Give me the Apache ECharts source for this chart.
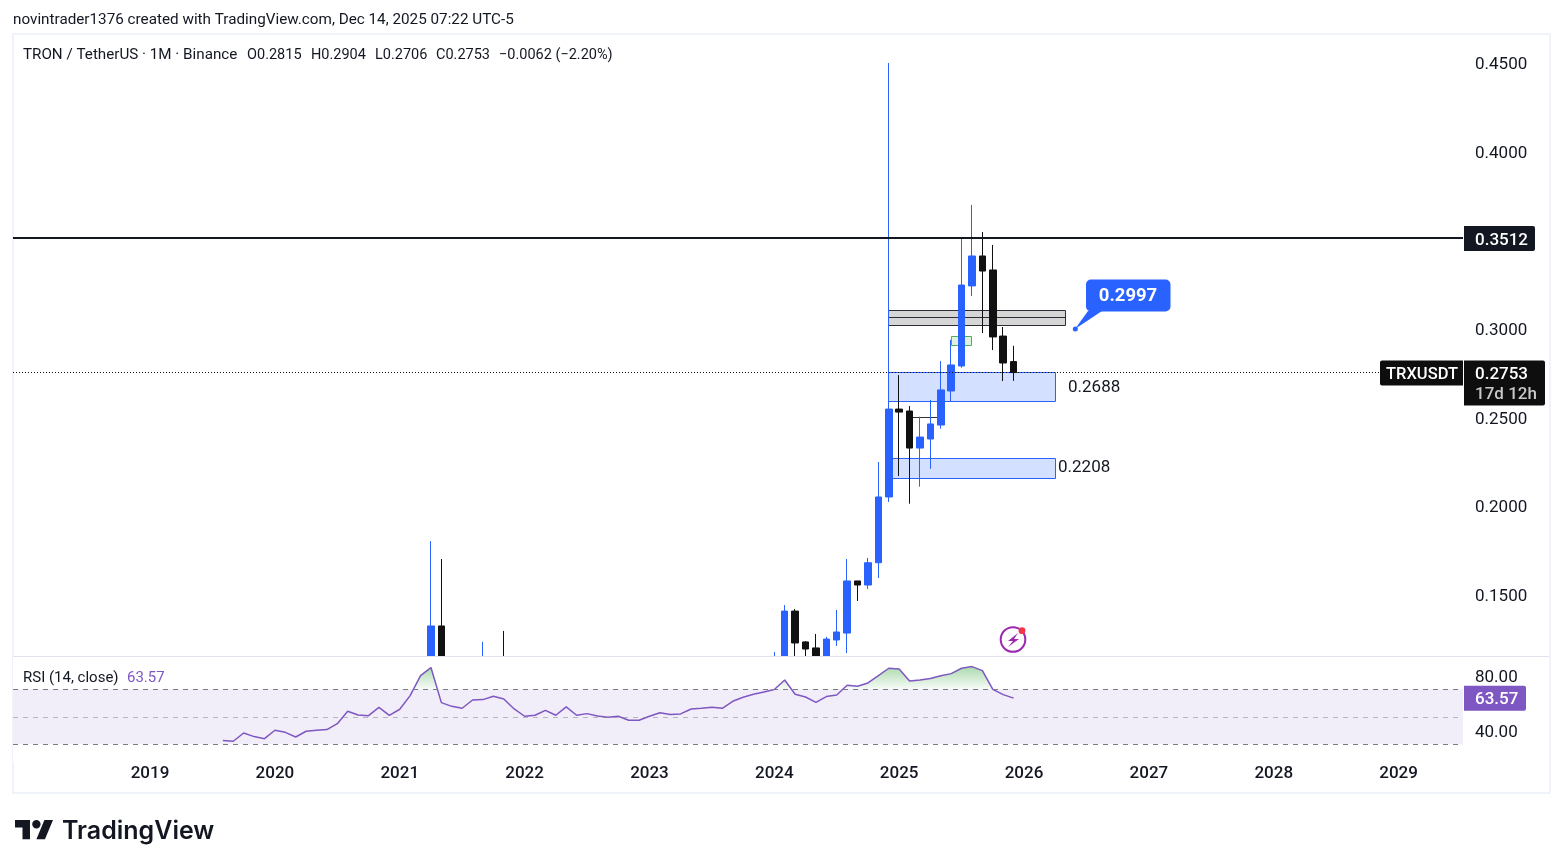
<!DOCTYPE html>
<html>
<head>
<meta charset="utf-8">
<title>TRXUSDT</title>
<style>
html,body{margin:0;padding:0;background:#fff;}
#chart{width:1563px;height:868px;}
</style>
<script src="https://cdn.jsdelivr.net/npm/echarts@6/dist/echarts.min.js"></script>
</head>
<body>
<div id="chart"></div>
<script>
// month index: 0 = Jan 2019
var yearTicks = [0, 12, 24, 36, 48, 60, 72, 84, 96, 108, 120];
var yearLabels = ['2019','2020','2021','2022','2023','2024','2025','2026','2027','2028','2029'];
var priceTicks = [0.15, 0.20, 0.25, 0.30, 0.40, 0.45];
var rsiTicks = [40, 80];

// candles (the parts under 0.115 are cut off in the picture, those are estimates)
var candleMonth = [27, 28, 32, 34, 60, 61, 62, 63, 64, 65, 66, 67, 68, 69, 70, 71, 72, 73, 74, 75, 76, 77, 78, 79, 80, 81, 82, 83];
var candleOpen  = [.0700, .1323, .0900, .1050, .1000, .1100, .1407, .1233, .1199, .1130, .1244, .1283, .1577, .1554, .1680, .2051, .2547, .2536, .2327, .2378, .2457, .2649, .2790, .3242, .3411, .3332, .2959, .2815];
var candleClose = [.1323, .0800, .1000, .0900, .1080, .1407, .1227, .1193, .1100, .1249, .1289, .1577, .1554, .1680, .2051, .2547, .2530, .2327, .2389, .2463, .2655, .2796, .3247, .3411, .3326, .2954, .2807, .2753];
var candleLow   = [.0600, .0700, .0800, .0800, .1000, .1050, .1080, .1050, .1050, .1100, .1210, .1170, .1464, .1532, .1594, .2023, .2169, .2013, .2109, .2210, .2436, .2589, .2780, .3185, .2976, .2880, .2705, .2706];
var candleHigh  = [.1802, .1701, .1233, .1295, .1176, .1441, .1419, .1238, .1278, .1261, .1413, .1701, .1577, .1707, .2248, .4500, .2739, .2564, .2504, .2598, .2818, .2937, .3512, .3699, .3546, .3473, .3010, .2904];

// RSI starts at month 7
var rsiFirstMonth = 7;
var rsiValues = [32.7, 32.2, 38.2, 35.6, 34.1, 40.2, 38.7, 35.3, 39.5, 40.2, 40.7, 45.0, 54.0, 51.3, 50.8, 56.9, 51.1, 55.5, 65.4, 79.9, 85.8, 60.3, 57.6, 56.2, 62.2, 62.5, 64.9, 63.0, 55.7, 50.4, 51.1, 54.7, 51.1, 57.2, 51.1, 52.3, 50.6, 49.6, 50.4,
    47.5, 47.5, 50.4, 53.0, 51.6, 52.1, 55.7, 56.2, 56.9, 56.2, 61.3, 64.2, 66.4, 68.1, 69.8, 76.8, 66.4, 64.4, 60.5, 64.7, 65.9, 72.9, 72.2, 74.6, 79.9, 85.3, 84.8, 76.1, 76.8, 77.8, 79.9, 81.4, 85.3, 86.5, 83.6, 70.0, 66.1, 63.57];
var rsiBands = [70, 50, 30];

// drawn levels
var resistanceLevel = 0.3512;
var lastClose = 0.2753;
// zones: [from month, to month, top price, bottom price]
var grayZone  = [70.93, 87.94, 0.3106, 0.3021];
var grayMid   = 0.3066;
var greenZone = [77.0, 78.97, 0.2959, 0.2905];
var blueZoneA = [70.93, 87.03, 0.2753, 0.2591];
var blueZoneB = [70.93, 87.03, 0.2269, 0.2157];
var shortLine = [73.1, 75.7, 0.2502];

var FONT = 'Roboto';
var INK = '#131722';
var UP = '#2962FF';
var DOWN = '#111111';
var RSI = '#7E57C2';

var candleData = candleMonth.map(function(m, i){
    return [m, candleOpen[i], candleClose[i], candleLow[i], candleHigh[i]];
});
var rsiData = rsiValues.map(function(v, i){
    return [rsiFirstMonth + i, v];
});

var myChart = echarts.init(document.getElementById('chart'));

// 这里画方框，全部走坐标轴换算
function zoneItem(api, zone, fill, stroke){
    var a = api.coord([zone[0], zone[2]]);
    var b = api.coord([zone[1], zone[3]]);
    var x1 = Math.floor(a[0]) + .5, y1 = Math.floor(a[1]) + .5;
    var x2 = Math.floor(b[0]) + .5, y2 = Math.floor(b[1]) + .5;
    return {type:'rect', shape:{x:x1, y:y1, width:x2-x1, height:y2-y1}, style:{fill:fill, stroke:stroke, lineWidth:1}};
}
function hLine(api, from, to, price, color){
    var p1 = api.coord([from, price]);
    var p2 = api.coord([to, price]);
    var y = Math.floor(p1[1]) + .5;
    return {type:'line', shape:{x1:p1[0], y1:y, x2:p2[0], y2:y}, style:{stroke:color, lineWidth:1}};
}

function renderZones(params, api){
    return {type:'group', children:[
        zoneItem(api, grayZone, '#d6d6d6', '#2a2e39'),
        hLine(api, grayZone[0], grayZone[1], grayMid, '#2a2e39'),
        zoneItem(api, greenZone, 'rgba(76,175,80,0.18)', '#4CAF50'),
        zoneItem(api, blueZoneA, 'rgba(41,98,255,0.2)', UP),
        zoneItem(api, blueZoneB, 'rgba(41,98,255,0.2)', UP),
        hLine(api, shortLine[0], shortLine[1], shortLine[2], '#333')
    ]};
}

function renderLevels(params, api){
    var box = params.coordSys;
    var yRes = api.coord([0, resistanceLevel])[1];
    var yLast = Math.floor(api.coord([0, lastClose])[1]) + .5;
    return {type:'group', children:[
        {type:'line', shape:{x1:box.x, y1:yRes, x2:box.x+box.width, y2:yRes}, style:{stroke:INK, lineWidth:2}},
        {type:'line', shape:{x1:box.x, y1:yLast, x2:box.x+box.width, y2:yLast}, style:{stroke:'#111', lineWidth:1, lineDash:[1,2]}}
    ]};
}

// y轴文字往下挪一点，padding只有放在rich里才生效
var axisRich = {n:{color:INK, fontSize:17, fontFamily:FONT, padding:[4,0,0,0]}};

var option = {
    animation:false,
    backgroundColor:'#fff',
    textStyle:{fontFamily:FONT},
    grid:[
        {left:13, top:35, width:1450, height:621},
        {left:13, top:657, width:1450, height:100}
    ],
    xAxis:[
        {type:'value', gridIndex:0, min:-13.17, max:126.19, show:false},
        {type:'value', gridIndex:1, min:-13.17, max:126.19,
            axisLine:{show:false}, axisTick:{show:false}, splitLine:{show:false},
            axisLabel:{customValues:yearTicks, color:INK, fontSize:17, fontWeight:500, margin:8, fontFamily:FONT,
                formatter:function(v){ return yearLabels[yearTicks.indexOf(v)]; }}}
    ],
    yAxis:[
        {type:'value', gridIndex:0, position:'right', min:0.11535, max:0.4658,
            axisLine:{show:false}, axisTick:{show:false}, splitLine:{show:false},
            axisLabel:{customValues:priceTicks, margin:12, rich:axisRich,
                formatter:function(v){ return '{n|' + v.toFixed(4) + '}'; }}},
        {type:'value', gridIndex:1, position:'right', min:20.76, max:93.49,
            axisLine:{show:false}, axisTick:{show:false}, splitLine:{show:false},
            axisLabel:{customValues:rsiTicks, margin:12, rich:axisRich,
                formatter:function(v){ return '{n|' + v.toFixed(2) + '}'; }}}
    ],
    series:[
        {type:'custom', xAxisIndex:0, yAxisIndex:0, z:0.1, silent:true, renderItem:renderZones, data:[[0]]},
        {type:'candlestick', xAxisIndex:0, yAxisIndex:0, z:0.2, barWidth:7, data:candleData,
            itemStyle:{color:UP, color0:DOWN, borderColor:UP, borderColor0:DOWN, borderWidth:1}},
        {type:'custom', xAxisIndex:0, yAxisIndex:0, z:0.25, silent:true, renderItem:renderLevels, data:[[0]]},
        {type:'line', xAxisIndex:1, yAxisIndex:1, z:3, data:rsiData, showSymbol:false, silent:true,
            lineStyle:{color:RSI, width:1.5},
            areaStyle:{origin:70, opacity:1, color:{type:'linear', global:true, x:0, y:665, x2:0, y2:690,
                colorStops:[{offset:0, color:'rgba(76,175,80,0.5)'},{offset:0.99, color:'rgba(76,175,80,0.03)'},{offset:1, color:'rgba(76,175,80,0)'}]}},
            markArea:{silent:true, itemStyle:{color:'rgba(126,87,194,0.1)'},
                data:[[{yAxis:rsiBands[0]},{yAxis:rsiBands[2]}]]},
            markLine:{silent:true, symbol:'none', animation:false, label:{show:false},
                data:[
                    {yAxis:rsiBands[0], lineStyle:{color:'#787B86', width:1, type:[5,5]}},
                    {yAxis:rsiBands[1], lineStyle:{color:'rgba(120,123,134,0.5)', width:1, type:[5,5]}},
                    {yAxis:rsiBands[2], lineStyle:{color:'#787B86', width:1, type:[5,5]}}
                ]}}
    ]
};
myChart.setOption(option);

// 右边的价格标签，用坐标轴算出y
function tagEls(x, y, w, h, fill, text){
    return [
        {type:'rect', z:100, shape:{x:x, y:y, width:w, height:h, r:[0,2,2,0]}, style:{fill:fill}},
        {type:'text', z:101, style:{x:x+11, y:y+h/2+2, text:text, fill:'#fff', font:'500 17px '+FONT, textVerticalAlign:'middle'}}
    ];
}
function label(x, y, text, font, color, align){
    return {type:'text', z:101, style:{x:x, y:y, text:text, fill:color || INK, font:font, textAlign:align || 'left', textVerticalAlign:'middle'}};
}

var yRes = myChart.convertToPixel({yAxisIndex:0}, resistanceLevel);
var yLast = myChart.convertToPixel({yAxisIndex:0}, lastClose);
var yRsi = myChart.convertToPixel({yAxisIndex:1}, rsiValues[rsiValues.length-1]);

var els = [];
// frame and pane separator
els.push({type:'rect', z:-1, silent:true, shape:{x:13, y:34, width:1537, height:759}, style:{fill:'none', stroke:'#f0f3fa', lineWidth:2}});
// 蒙住掉到RSI区域里的蜡烛
els.push({type:'rect', z:0.3, silent:true, shape:{x:13, y:657, width:1450, height:105}, style:{fill:'#fff'}});
els.push({type:'line', z:5, shape:{x1:13, y1:656.5, x2:1549, y2:656.5}, style:{stroke:'#e0e3eb', lineWidth:1}});

els.push(label(13, 20.5, 'novintrader1376 created with TradingView.com, Dec 14, 2025 07:22 UTC-5', '15.25px '+FONT));
els.push(label(23, 55, 'TRON / TetherUS · 1M · Binance', '15.2px '+FONT));
els.push(label(247, 55, 'O0.2815', '14.5px '+FONT));
els.push(label(311, 55, 'H0.2904', '14.5px '+FONT));
els.push(label(375, 55, 'L0.2706', '14.5px '+FONT));
els.push(label(436, 55, 'C0.2753', '14.5px '+FONT));
els.push(label(499, 55, '−0.0062 (−2.20%)', '14.5px '+FONT));
els.push(label(23, 678, 'RSI (14, close)', '15px '+FONT));
els.push(label(127, 678, '63.57', '15px '+FONT, RSI));

els = els.concat(tagEls(1464, yRes-12, 71, 25, '#131722', '0.3512'));
els = els.concat(tagEls(1464, yLast-12, 81, 25, '#0e0e0e', '0.2753'));
els.push({type:'rect', z:100, shape:{x:1464, y:yLast+11, width:81, height:22, r:[0,0,2,0]}, style:{fill:'#0e0e0e'}});
els.push(label(1475, yLast+22, '17d 12h', '500 17px '+FONT, '#c8c8c8'));
els.push({type:'rect', z:100, shape:{x:1380, y:yLast-12, width:83, height:25, r:[2,0,0,2]}, style:{fill:'#0e0e0e'}});
els.push(label(1386, yLast+2.5, 'TRXUSDT', '500 16.5px '+FONT, '#fff'));
els = els.concat(tagEls(1464, yRsi-12.5, 62, 25, RSI, '63.57'));

// 0.2997 callout
els.push({type:'polygon', z:100, shape:{points:[[1075,329],[1088,311],[1102,311]]}, style:{fill:UP}});
els.push({type:'circle', z:100, shape:{cx:1075.3, cy:329, r:2.5}, style:{fill:UP}});
els.push({type:'rect', z:100, shape:{x:1086, y:279.5, width:84.5, height:32, r:5}, style:{fill:UP}});
els.push(label(1128, 296.5, '0.2997', '700 18.5px '+FONT, '#fff', 'center'));

// zone labels
els.push(label(1068, 388, '0.2688', '400 17px '+FONT));
els.push(label(1058, 468, '0.2208', '400 17px '+FONT));

// bolt icon
els.push({type:'circle', z:100, shape:{cx:1013, cy:639.5, r:12.3}, style:{fill:'none', stroke:'#9c27b0', lineWidth:2}});
els.push({type:'polygon', z:100, shape:{points:[[1018,633],[1008,641],[1013,641],[1008,647],[1019,639],[1014,639]]}, style:{fill:'#9c27b0'}});
els.push({type:'circle', z:101, shape:{cx:1022, cy:630.7, r:3.4}, style:{fill:'#f23645'}});

// logo
var logoX = 15, logoY = 815.7, logoK = 1.07;
function logoPts(pts){
    return pts.map(function(p){ return [logoX + p[0]*logoK, logoY + p[1]*logoK]; });
}
els.push({type:'polygon', z:100, shape:{points:logoPts([[14,22],[7,22],[7,11],[0,11],[0,4],[14,4]])}, style:{fill:INK}});
els.push({type:'polygon', z:100, shape:{points:logoPts([[28,22],[20,22],[27.5,4],[35.5,4]])}, style:{fill:INK}});
els.push({type:'circle', z:100, shape:{cx:logoX+20*logoK, cy:logoY+8*logoK, r:4.2}, style:{fill:INK}});
els.push(label(62, 831, 'TradingView', '600 25px Inter', INK));

myChart.setOption({graphic:{elements:els}});
</script>
</body>
</html>
